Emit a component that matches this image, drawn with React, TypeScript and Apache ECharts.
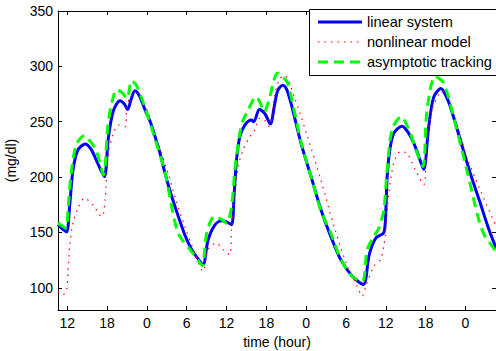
import React, { useEffect, useRef } from "react";
import * as echarts from "echarts";

// time in hours (12 = noon of day 1, 24 = midnight, ...)
const linearT = [10.6, 11.3, 11.9, 12.35, 12.85, 13.6, 14.75, 15.6, 16.35, 17.0, 17.6, 18.2, 18.95, 19.95, 20.6, 21.1, 21.6, 22.2, 22.9, 23.7, 24.5, 25.2, 26.0, 26.7, 27.5, 28.7, 29.7, 30.7, 31.6, 32.45, 33.2, 34.2, 35.2, 36.0, 36.75, 37.15, 37.5, 38.0, 38.75, 39.75, 40.1, 40.95, 41.8, 42.6, 43.2, 43.7, 44.45, 45.0, 45.7, 47.2, 48.7, 50.2, 51.7, 53.2, 54.95, 56.6, 57.5, 58.5, 59.7, 60.0, 60.2, 60.6, 61.2, 62.45, 63.4, 64.2, 65.0, 65.7, 66.45, 67.2, 68.3, 69.0, 69.7, 71.2, 72.7, 74.2, 75.4, 76.6];
const linearV = [157, 153, 150.5, 173.5, 206, 224.5, 230, 225, 215.5, 207, 200.5, 236, 260, 269, 266, 261, 270, 278, 273, 261, 250, 237, 221, 204, 187, 165, 148, 135, 127, 121, 143, 156.5, 160.5, 159.5, 157, 185.5, 215.5, 236.5, 247, 251.5, 250, 261, 257, 248, 264, 278, 283, 280, 267, 231, 201, 171, 146.5, 125.5, 110.5, 103, 130, 145, 150, 170.5, 200.5, 224.5, 239.5, 246, 240, 231, 218, 207, 245, 272, 280, 274, 264, 234, 204, 177, 155, 136];

const nonlinearT = [10.6, 11.35, 11.85, 12.1, 12.35, 12.85, 13.6, 14.6, 15.85, 16.85, 17.3, 17.7, 18.2, 18.95, 19.7, 20.7, 20.95, 21.45, 22.45, 24.2, 25.7, 27.2, 28.2, 29.7, 31.2, 32.45, 33.2, 34.45, 35.45, 36.45, 36.75, 37.0, 37.75, 38.5, 39.5, 40.25, 41.0, 41.7, 42.45, 43.2, 43.95, 44.7, 46.2, 48.2, 50.2, 52.2, 54.2, 55.7, 56.45, 56.95, 58.2, 59.2, 59.7, 60.0, 60.45, 61.2, 62.2, 63.2, 64.45, 65.7, 66.2, 66.95, 68.2, 68.7, 70.2, 72.2, 74.2, 76.6];
const nonlinearV = [97, 94, 97, 113.5, 137.5, 158.5, 172, 181, 175, 166, 164.5, 180, 221.5, 239.5, 247, 245.5, 260.5, 272.5, 276, 258, 230.5, 203.5, 182.5, 155.5, 131.5, 115, 134.5, 140.5, 134.5, 130, 152.5, 170.5, 209.5, 224.5, 236.5, 242.5, 253, 251.5, 245.5, 272.5, 288, 292, 272.5, 236.5, 197.5, 155.5, 119.5, 101.5, 92.5, 101, 119.5, 125.5, 138, 152.5, 185.5, 212.5, 223, 221.5, 206.5, 193, 230.5, 260.5, 277, 278, 258, 218.5, 188.5, 156];

const trackingT = [10.6, 11.8, 12.1, 12.6, 13.35, 14.6, 15.5, 16.35, 17.45, 18.1, 18.7, 19.5, 20.3, 21.0, 21.7, 22.4, 23.7, 25.2, 26.7, 27.2, 28.7, 30.7, 32.0, 32.4, 33.0, 34.2, 35.2, 36.0, 36.75, 37.25, 38.0, 38.5, 39.25, 40.45, 41.0, 41.7, 42.3, 43.7, 44.2, 45.2, 47.2, 48.7, 50.2, 51.7, 53.2, 55.0, 56.45, 57.2, 58.2, 58.95, 59.7, 60.2, 60.95, 62.3, 63.7, 64.5, 65.6, 66.2, 67.45, 68.7, 70.2, 72.2, 74.0, 74.8, 75.6, 76.6];
const trackingV = [158.5, 154, 170.5, 203.5, 229, 237.5, 232, 224.5, 202, 245.5, 267, 279, 276, 271, 287, 283, 263, 235, 205, 190, 149.5, 133, 122.5, 120, 149.5, 164.5, 162, 158.5, 173.5, 206.5, 239.5, 251.5, 260.5, 272.5, 268, 259, 268, 294, 292, 285, 232, 201, 170, 149.5, 126, 110, 106, 134.5, 146.5, 154, 170.5, 206.5, 243, 254.5, 239.5, 225, 209.5, 260.5, 291, 285, 254.5, 206.5, 161.5, 148, 141, 133];

const xTicks = [12, 18, 24, 30, 36, 42, 48, 54, 60, 66, 72];
const yTicks = [100, 150, 200, 250, 300, 350];
const legendNames = ["linear system", "nonlinear model", "asymptotic tracking"];

const FONT = "'Liberation Sans', Arial, Helvetica, sans-serif";

const zip = (t: number[], v: number[]) => t.map((x, i) => [x, v[i]]);

export default function App() {
  const ref = useRef<HTMLDivElement>(null);
  useEffect(() => {
    if (!ref.current) return;
    const chart = echarts.init(ref.current, null, { renderer: "svg" });
    const axisLine = { show: true, lineStyle: { color: "#000", width: 1 } };
    const xBase = { type: "value", min: 10.6, max: 76.6, splitLine: { show: false }, axisLine };
    const yBase = { type: "value", min: 80, max: 350, splitLine: { show: false }, axisLine };
    const tickX = { show: true, inside: true, length: 4, customValues: xTicks, lineStyle: { color: "#000" } };
    const tickY = { show: true, inside: true, length: 4, customValues: yTicks, lineStyle: { color: "#000" } };
    const legendY = [22, 42, 62];
    const legendStyles = [
      { stroke: "#0000ff", lineWidth: 3 },
      { stroke: "#ff0000", lineWidth: 1.2, lineDash: [1.5, 5] },
      { stroke: "#00ff00", lineWidth: 3, lineDash: [10, 6] },
    ];
    chart.setOption({
      animation: false,
      backgroundColor: "#fff",
      grid: { left: 58, right: 0, top: 11, bottom: 41, containLabel: false, outerBoundsMode: "none" },
      xAxis: [
        {
          ...xBase,
          position: "bottom",
          axisTick: tickX,
          axisLabel: {
            show: true,
            customValues: xTicks,
            formatter: (v: number) => String(Math.round(v) % 24),
            color: "#000",
            fontSize: 14,
            fontFamily: FONT,
            margin: 6,
          },
          name: "time (hour)",
          nameLocation: "middle",
          nameGap: 23,
          nameTextStyle: { color: "#000", fontSize: 14, fontFamily: FONT },
        },
        { ...xBase, position: "top", axisTick: tickX, axisLabel: { show: false } },
      ],
      yAxis: [
        {
          ...yBase,
          position: "left",
          axisTick: tickY,
          axisLabel: {
            show: true,
            customValues: yTicks,
            color: "#000",
            fontSize: 14,
            fontFamily: FONT,
            margin: 5,
          },
          name: "(mg/dl)",
          nameLocation: "middle",
          nameGap: 40,
          nameTextStyle: { color: "#000", fontSize: 14, fontFamily: FONT },
        },
        { ...yBase, position: "right", axisTick: tickY, axisLabel: { show: false } },
      ],
      series: [
        {
          name: legendNames[0],
          type: "line",
          data: zip(linearT, linearV),
          showSymbol: false,
          smooth: 0.3,
          lineStyle: { color: "#0000ff", width: 3 },
        },
        {
          name: legendNames[1],
          type: "line",
          data: zip(nonlinearT, nonlinearV),
          showSymbol: false,
          smooth: 0.3,
          lineStyle: { color: "#ff0000", width: 1.2, type: [1.5, 5] },
        },
        {
          name: legendNames[2],
          type: "line",
          data: zip(trackingT, trackingV),
          showSymbol: false,
          smooth: 0.3,
          lineStyle: { color: "#00ff00", width: 3, type: [10, 6] },
        },
      ],
      graphic: [
        {
          type: "rect",
          z: 100,
          shape: { x: 309.5, y: 9.5, width: 200, height: 66 },
          style: { fill: "#fff", stroke: "#000", lineWidth: 1 },
        },
        ...legendNames.flatMap((n, i) => [
          {
            type: "line",
            z: 101,
            shape: { x1: 318, y1: legendY[i], x2: 362, y2: legendY[i] },
            style: legendStyles[i],
          },
          {
            type: "text",
            z: 101,
            x: 367,
            y: legendY[i],
            style: {
              text: n,
              fill: "#000",
              fontSize: 14.6,
              fontFamily: FONT,
              verticalAlign: "middle",
              align: "left",
            },
          },
        ]),
      ],
    });
    return () => chart.dispose();
  }, []);
  return (
    <div
      ref={ref}
      style={{ position: "fixed", left: 0, top: 0, width: 496, height: 351, background: "#fff" }}
    />
  );
}
